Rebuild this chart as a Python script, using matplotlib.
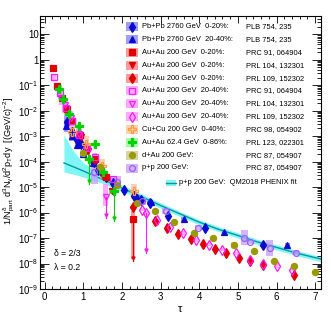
import numpy as np
import matplotlib
matplotlib.use('Agg')
import matplotlib.pyplot as plt
from matplotlib.lines import Line2D
from matplotlib.patches import Rectangle
from matplotlib.ticker import LogLocator, MultipleLocator, FuncFormatter, NullFormatter

plt.rcParams['font.family'] = ['Liberation Sans', 'DejaVu Sans']
plt.rcParams['mathtext.fontset'] = 'custom'
plt.rcParams['mathtext.rm'] = 'Liberation Sans'
plt.rcParams['mathtext.it'] = 'Liberation Sans:italic'
plt.rcParams['mathtext.bf'] = 'Liberation Sans:bold'

# ---- data ----
# Pb+Pb 2760 GeV 0-20%
pb020_x = [0.57, 0.72, 0.84, 0.93, 1.05, 1.27, 1.39, 1.58, 1.79, 2.05, 2.3, 2.5, 2.72, 3.2, 4.15, 5.64]
pb020_y = [3.6e-3, 1.4e-3, 6.9e-4, 4.8e-4, 2.5e-4, 1.0e-4, 4.9e-5, 2.5e-5, 1.2e-5, 7.4e-6, 4.5e-6,
           3.2e-6, 2.4e-6, 7.4e-7, 2.5e-7, 5.4e-8]
# Pb+Pb 2760 GeV 20-40%
pb2040_x = [0.55, 0.7, 0.85, 1.0, 1.25, 1.5, 1.77, 2.4, 2.75, 3.6, 4.64, 6.28]
pb2040_y = [2.5e-3, 1.0e-3, 4.5e-4, 2.0e-4, 8.9e-5, 4.0e-5, 1.8e-5, 4.1e-6, 2.6e-6, 5.8e-7, 1.7e-7, 5.4e-8]
# Au+Au 200 GeV 0-20% PRC 91
au020a_x = [0.22, 0.33, 0.45, 0.57, 0.72, 0.91, 1.1, 1.3, 1.58, 2.29]
au020a_y = [0.46, 0.095, 0.032, 0.012, 4.0e-3, 1.1e-3, 3.5e-4, 1.3e-4, 2.6e-5, 5.8e-7]
# Au+Au 200 GeV 0-20% PRL 104
au020b_x = [0.95, 1.12, 1.3, 1.5, 1.73]
au020b_y = [8.9e-4, 2.5e-4, 1.1e-4, 2.8e-5, 6.9e-6]
# Au+Au 200 GeV 0-20% PRL 109
au020c_x = [2.29, 2.86, 3.17, 3.45, 3.78, 4.09, 4.4, 4.7, 5.03, 5.31, 5.65, 6.45]
au020c_y = [1.6e-6, 4.5e-7, 2.4e-7, 1.4e-7, 9.1e-8, 5.8e-8, 3.7e-8, 2.5e-8, 1.7e-8, 1.3e-8, 9.1e-9, 3.6e-9]
# Au+Au 200 GeV 20-40% PRC 91
au2040a_x = [0.24, 0.4, 0.55, 0.7, 0.9, 1.1, 1.3, 1.76]
au2040a_y = [0.21, 0.05, 0.0126, 4.0e-3, 1.1e-3, 3.5e-4, 1.5e-4, 2.1e-5]
# Au+Au 200 GeV 20-40% PRL 104
au2040b_x = [0.42, 0.52, 0.68, 0.88, 1.1, 1.58]
au2040b_y = [0.032, 0.016, 5.0e-3, 1.26e-3, 3.5e-4, 4.1e-6]
# Au+Au 200 GeV 20-40% PRL 109
au2040c_x = [2.52, 2.62, 2.91, 3.25, 3.57, 3.91, 4.26, 4.6, 4.95, 5.31, 5.65, 6.02, 6.39]
au2040c_y = [1.3e-6, 9.5e-7, 4.9e-7, 2.8e-7, 1.55e-7, 8.5e-8, 5.5e-8, 3.5e-8, 2.5e-8, 1.4e-8,
             1.0e-8, 7.8e-9, 5.8e-9]
# Cu+Cu 200 GeV 0-40%
cucu_x = [0.72, 1.07, 1.48, 2.31]
cucu_y = [1.5e-3, 5.1e-4, 6.6e-5, 6.9e-6]
# Au+Au 62.4 GeV 0-86%
au62_x = [0.38, 0.48, 0.63, 0.89, 1.15, 1.3, 1.52, 1.8]
au62_y = [0.074, 0.028, 7.2e-3, 2.4e-3, 1.3e-4, 4.7e-4, 3.9e-5, 7.1e-6]
# d+Au 200 GeV
dau_x = [0.98, 1.43, 1.88, 2.38, 2.85, 3.35, 3.86, 4.35, 4.89, 5.41, 5.94, 6.45, 6.99]
dau_y = [2.2e-4, 6.2e-5, 1.2e-5, 2.3e-6, 1.15e-6, 4.2e-7, 1.55e-7, 1.0e-7, 5.5e-8, 3.0e-8,
         1.23e-8, 8.3e-9, 4.5e-9]
# p+p 200 GeV
pp_x = [1.28, 1.88, 2.53, 3.13, 3.98, 5.17, 5.32, 5.82, 6.5]
pp_y = [3.9e-5, 1.6e-5, 2.75e-6, 1.15e-6, 2.5e-7, 1.05e-7, 7.2e-8, 4.1e-8, 2.6e-8]

# systematic box half heights (dex), lower / upper
pb020_sys = [0.25, 0.2, 0.15, 0.15, 0.12, 0.1, 0.1, 0.08, 0.08, 0.08, 0.08, 0.08, 0.08, 0.08, 0.08, 0.08]
pb2040_sys = [0.25, 0.2, 0.15, 0.15, 0.12, 0.1, 0.1, 0.08, 0.08, 0.08, 0.08, 0.08]
au020a_sys_lo = [0.1, 0.1, 0.12, 0.12, 0.12, 0.12, 0.12, 0.12, 0.12, 1.6]
au020a_sys_hi = [0.1, 0.1, 0.12, 0.12, 0.12, 0.12, 0.12, 0.12, 0.12, 0.3]
au2040a_sys = [0.12, 0.25, 0.3, 0.3, 0.25, 0.2, 0.15, 0.12]
au2040b_sys_lo = [0.3, 0.3, 0.3, 0.25, 0.2, 0.35]
au2040b_sys_hi = [0.3, 0.3, 0.3, 0.25, 0.2, 0.5]
pp_sys = [0.45, 0.25, 0.15, 0.1, 0.1, 0.3, 0.08, 0.3, 0.1]
dau_sys = [0.12, 0.12, 0.1, 0.08, 0.06, 0.06, 0.06, 0.06, 0.12, 0.06, 0.06, 0.06, 0.06]

# long statistical error bars (lower end), per point: None = no bar
au020a_elo = [None] * 9 + [1.3e-8]
au2040b_elo = [None] * 5 + [6.0e-7]
au2040c_elo = [None, 2.7e-8] + [None] * 11
au62_elo = [None] * 4 + [1.3e-5, None, None, 4.7e-7]

# QM2018 PHENIX p+p fit with its band
fit_x = [0.5, 0.75, 1.0, 1.5, 2, 2.5, 3, 3.5, 4, 4.5, 5, 5.5, 6, 6.5, 7, 7.2]
fit_y = [8.9e-5, 6.2e-5, 4.3e-5, 2.0e-5, 9.1e-6, 4.2e-6, 1.9e-6, 8.9e-7, 4.2e-7, 2.2e-7, 1.26e-7,
         7.1e-8, 4.3e-8, 2.6e-8, 1.7e-8, 1.45e-8]
fit_hi = [1.1e-3, 2.5e-4, 8.9e-5, 2.8e-5, 1.2e-5, 5.4e-6, 2.4e-6, 1.1e-6, 5.2e-7, 2.8e-7, 1.6e-7,
          8.9e-8, 5.4e-8, 3.3e-8, 2.1e-8, 1.8e-8]
fit_lo = [3.9e-5, 3.2e-5, 2.5e-5, 1.4e-5, 6.9e-6, 3.3e-6, 1.5e-6, 7.1e-7, 3.3e-7, 1.8e-7, 1.0e-7,
          5.6e-8, 3.4e-8, 2.1e-8, 1.35e-8, 1.15e-8]

labels = ["Pb+Pb 2760 GeV  0-20%:", "Pb+Pb 2760 GeV  20-40%:", "Au+Au 200 GeV  0-20%:",
          "Au+Au 200 GeV  0-20%:", "Au+Au 200 GeV  0-20%:", "Au+Au 200 GeV  20-40%:",
          "Au+Au 200 GeV  20-40%:", "Au+Au 200 GeV  20-40%:", "Cu+Cu 200 GeV  0-40%:",
          "Au+Au 62.4 GeV  0-86%:", "d+Au 200 GeV:", "p+p 200 GeV:"]
refs = ["PLB 754, 235", "PLB 754, 235", "PRC 91, 064904", "PRL 104, 132301", "PRL 109, 152302",
        "PRC 91, 064904", "PRL 104, 132301", "PRL 109, 152302", "PRC 98, 054902",
        "PRL 123, 022301", "PRC 87, 054907", "PRC 87, 054907"]
fit_label = "p+p 200 GeV:  QM2018 PHENIX fit"

# ---- styles ----
BLUE, BLUEBOX = '#0a0ad2', '#7f7ff5'
RED, REDBOX = '#e00000', '#ff7a7a'
MAG, MAGBOX = '#ff1aff', '#ff8cff'
ORA, ORABOX = '#ff9a3c', '#ffc494'
GRN, GRNBOX = '#00d200', '#86ff86'
OLV, OLVBOX = '#9a9a00', '#c8c88a'
PUR, PURBOX = '#9b5cff', '#c59cff'

# (x, y, sys_lo, sys_hi, elo, color, boxcolor, marker, filled, ms, box width)
series = [
    (pb020_x, pb020_y, pb020_sys, pb020_sys, None, BLUE, BLUEBOX, 'd', True, 4.6, 0.12),
    (pb2040_x, pb2040_y, pb2040_sys, pb2040_sys, None, BLUE, BLUEBOX, '^', True, 4.3, 0.12),
    (au020a_x, au020a_y, au020a_sys_lo, au020a_sys_hi, au020a_elo, RED, REDBOX, 's', True, 3.7, 0.12),
    (au020b_x, au020b_y, 0.12, 0.12, None, RED, REDBOX, 'v', True, 4.3, 0.12),
    (au020c_x, au020c_y, 0.06, 0.06, None, RED, REDBOX, 'd', True, 4.6, 0.1),
    (au2040a_x, au2040a_y, au2040a_sys, au2040a_sys, None, MAG, MAGBOX, 's', False, 3.7, 0.12),
    (au2040b_x, au2040b_y, au2040b_sys_lo, au2040b_sys_hi, au2040b_elo, MAG, MAGBOX, 'v', False, 4.3, 0.12),
    (au2040c_x, au2040c_y, 0.07, 0.07, au2040c_elo, MAG, MAGBOX, 'd', False, 4.6, 0.1),
    (cucu_x, cucu_y, 0.3, 0.3, None, ORA, ORABOX, 'P', False, 5.2, 0.14),
    (au62_x, au62_y, 0.12, 0.12, au62_elo, GRN, GRNBOX, 'P', True, 5.2, 0.12),
    (dau_x, dau_y, dau_sys, dau_sys, None, OLV, OLVBOX, 'o', True, 4.4, 0.15),
    (pp_x, pp_y, pp_sys, pp_sys, None, PUR, PURBOX, 'o', False, 4.2, 0.18),
]

fig = plt.figure(figsize=(3.31, 3.21), dpi=100)
ax = fig.add_axes([40 / 331, 1 - 289 / 321, 281 / 331, 273 / 321])
ax.set_yscale('log')
ax.set_xlim(-0.12, 7.15)
ax.set_ylim(1e-9, 52)

# fit band and line
ax.fill_between(fit_x, fit_lo, fit_hi, color='#7ff5f5', lw=0, zorder=1)
ax.plot(fit_x, fit_y, color='#00999c', lw=1.0, zorder=2)

for x, y, slo, shi, elo, col, bcol, mk, filled, ms, bw in series:
    x = np.array(x)
    y = np.array(y)
    slo = np.broadcast_to(np.array(slo, dtype=float), y.shape)
    shi = np.broadcast_to(np.array(shi, dtype=float), y.shape)
    lo = y / 10 ** slo
    hi = y * 10 ** shi
    ax.bar(x, hi - lo, bottom=lo, width=bw, color=bcol, alpha=0.75, lw=0, zorder=3)
    if elo is not None:
        for xi, yi, e in zip(x, y, elo):
            if e is not None:
                ax.plot([xi, xi], [e, yi], color=col, lw=0.8, zorder=4)
                ax.plot([xi], [e * 1.3], marker='v', ms=2.2, color=col, zorder=4)
    ax.plot(x, y, ls='none', marker=mk, ms=ms, color=col,
            mfc=col if filled else 'none', mec=col, mew=0.9, zorder=5)

# axes style (ROOT-like)
ax.xaxis.set_major_locator(MultipleLocator(1))
ax.xaxis.set_minor_locator(MultipleLocator(0.2))
ax.yaxis.set_major_locator(LogLocator(base=10, numticks=20))
ax.yaxis.set_minor_locator(LogLocator(base=10, subs=np.arange(2, 10), numticks=20))
ax.yaxis.set_minor_formatter(NullFormatter())


def yfmt(v, pos):
    e = int(round(np.log10(v)))
    if e == 0:
        return '1'
    if e == 1:
        return '10'
    return r'$\mathrm{10^{%d}}$' % e


ax.yaxis.set_major_formatter(FuncFormatter(yfmt))
ax.tick_params(which='both', direction='in', top=True, right=True, labelsize=7, width=0.6)
ax.tick_params(axis='y', which='major', length=6.5, pad=1)
ax.tick_params(axis='y', which='minor', length=3.2)
ax.tick_params(axis='x', which='major', length=5, pad=2.5)
ax.tick_params(axis='x', which='minor', length=2.5)
for s in ax.spines.values():
    s.set_linewidth(0.8)

ax.set_xlabel('τ', fontsize=8, labelpad=1)
ax.set_ylabel(r'$\mathrm{1/N_{part}^{\delta}\ d^{3}N_{\gamma}/d^{2}p_{T}dy\ \ [(GeV/c)^{-2}]}$',
              fontsize=6.6)
ax.yaxis.set_label_coords(-0.083, 0.47)

fig.text(54 / 331, 1 - 253 / 321, 'δ = 2/3', fontsize=6.2, va='center')
fig.text(54 / 331, 1 - 268 / 321, 'λ = 0.2', fontsize=6.2, va='center')

# legend drawn by hand in figure pixels
row_y = [26.7, 39.3, 52.3, 65.3, 78.3, 90.7, 103.7, 116.7, 129.3, 142.3, 155.3, 168.0]
W, H = 331.0, 321.0
for (x, y, slo, shi, elo, col, bcol, mk, filled, ms, bw), lab, ref, py in zip(series, labels, refs, row_y):
    fig.add_artist(Rectangle(((125.5) / W, 1 - (py + 4.5) / H), 12.5 / W, 9 / H,
                             transform=fig.transFigure, color=bcol, alpha=0.75, lw=0))
    fig.add_artist(Line2D([131.7 / W], [1 - py / H], transform=fig.transFigure, marker=mk, ms=ms,
                          color=col, mfc=col if filled else 'none', mec=col, mew=0.9))
    fig.text(141.7 / W, 1 - py / H, lab, fontsize=5.4, va='center')
    fig.text(245.7 / W, 1 - py / H, ref, fontsize=5.4, va='center')

fy = 182.7
fig.add_artist(Rectangle((166 / W, 1 - (fy + 3) / H), 10 / W, 6 / H,
                         transform=fig.transFigure, color='#7ff5f5', lw=0))
fig.add_artist(Line2D([166 / W, 176 / W], [1 - fy / H, 1 - fy / H], transform=fig.transFigure,
                      color='#00999c', lw=1.0))
fig.text(179 / W, 1 - fy / H, fit_label, fontsize=5.4, va='center')

fig.savefig('out.png', dpi=100)
